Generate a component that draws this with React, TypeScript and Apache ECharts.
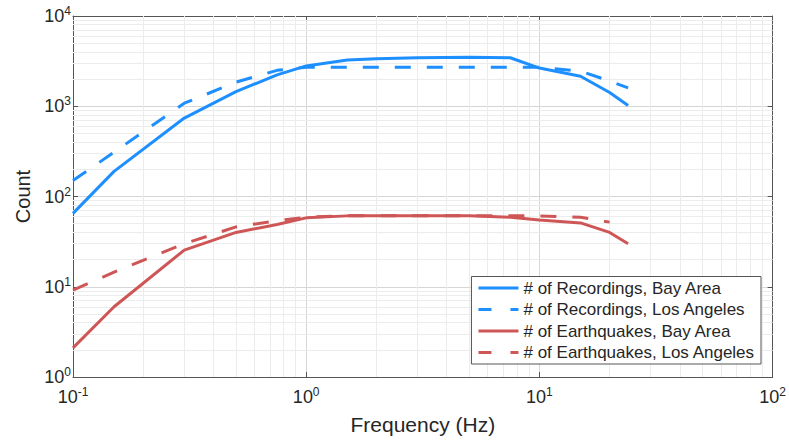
import React, { useEffect, useRef } from "react";
import * as echarts from "echarts";

const freqs = [0.1, 0.15, 0.3, 0.5, 0.75, 1, 1.5, 2, 3, 5, 7.5, 10, 15, 20, 24];
const recBay = [65, 190, 740, 1450, 2230, 2800, 3250, 3350, 3450, 3500, 3450, 2650, 2150, 1420, 1020];
const recLA = [150, 310, 1080, 1850, 2500, 2700, 2700, 2700, 2700, 2700, 2700, 2700, 2450, 1900, 1600];
const eqBay = [2.1, 6.0, 25.5, 40, 49, 58, 61, 61, 61, 61, 59, 55, 51, 40, 30];
const eqLA = [9.2, 14.5, 30, 46, 54, 59, 61, 61, 61, 61, 61, 61, 59, 52];

const seriesNames = [
  "# of Recordings, Bay Area",
  "# of Recordings, Los Angeles",
  "# of Earthquakes, Bay Area",
  "# of Earthquakes, Los Angeles",
];

const xMinorGrid = [0.2, 0.3, 0.4, 0.5, 0.6, 0.7, 0.8, 0.9, 2, 3, 4, 5, 6, 7, 8, 9, 20, 30, 40, 50, 60, 70, 80, 90];
const yMinorGrid = [2, 3, 4, 5, 6, 7, 8, 9, 20, 30, 40, 50, 60, 70, 80, 90, 200, 300, 400, 500, 600, 700, 800, 900, 2000, 3000, 4000, 5000, 6000, 7000, 8000, 9000];

const BLUE = "#1E8FFF";
const RED = "#CF5656";
const FONT = "'Liberation Sans', Arial, sans-serif";
const TXT = "#262626";

const SOLID_ICON = "path://M0,0H40V3H0Z";
const DASH_ICON = "path://M0,0H13V3H0Z M32,0H40V3H32Z";

const pairs = (vals: number[]) => vals.map((v, i) => [freqs[i], v]);

const powLabel = (v: number) => {
  const e = Math.round(Math.log10(v));
  return `{b|10}{s|${e}}`;
};
const rich = {
  b: { fontSize: 18, fontFamily: FONT, color: TXT },
  s: { fontSize: 12, fontFamily: FONT, color: TXT, padding: [0, 0, 10, 0] },
};

export default function App() {
  const ref = useRef<HTMLDivElement>(null);
  useEffect(() => {
    if (!ref.current) return;
    const chart = echarts.init(ref.current, undefined, { renderer: "svg" });
    const axisLine = { show: true, lineStyle: { color: "#555", width: 1 } };
    const tick = { show: true, inside: true, length: 5, lineStyle: { color: "#555" } };
    const baseX = { type: "log" as const, logBase: 10, min: 0.1, max: 100, axisLine, axisTick: tick };
    const baseY = { type: "log" as const, logBase: 10, min: 1, max: 10000, axisLine, axisTick: tick };
    const mkLine = (name: string, vals: number[], color: string, dashed: boolean) => ({
      name,
      type: "line",
      data: pairs(vals),
      showSymbol: false,
      symbol: "none",
      lineStyle: { color, width: 3, type: dashed ? [16, 16] : "solid", cap: "butt" },
      itemStyle: { color },
      z: 5,
    });
    chart.setOption({
      animation: false,
      textStyle: { fontFamily: FONT },
      grid: { left: 73, right: 16, top: 16, bottom: 64, containLabel: false },
      legend: {
        data: [
          { name: seriesNames[0], icon: SOLID_ICON, itemStyle: { color: BLUE } },
          { name: seriesNames[1], icon: DASH_ICON, itemStyle: { color: BLUE } },
          { name: seriesNames[2], icon: SOLID_ICON, itemStyle: { color: RED } },
          { name: seriesNames[3], icon: DASH_ICON, itemStyle: { color: RED } },
        ],
        orient: "vertical",
        right: 28,
        bottom: 77,
        z: 20,
        itemWidth: 40,
        itemHeight: 3,
        itemGap: 4.5,
        itemTextGap: 5,
        padding: [3, 6, 3, 7],
        backgroundColor: "#fff",
        borderColor: "#555",
        borderWidth: 1,
        textStyle: { fontSize: 17, lineHeight: 17, color: TXT, fontFamily: FONT },
      },
      xAxis: [
        {
          ...baseX,
          position: "bottom",
          name: "Frequency (Hz)",
          nameLocation: "middle",
          nameGap: 37,
          nameTextStyle: { fontSize: 21, color: TXT, fontFamily: FONT },
          axisLabel: { formatter: powLabel, rich, margin: 9 },
          splitLine: { show: true, lineStyle: { color: "#d6d6d6", width: 1 } },
        },
        { ...baseX, position: "top", axisLabel: { show: false }, splitLine: { show: false } },
      ],
      yAxis: [
        {
          ...baseY,
          position: "left",
          name: "Count",
          nameLocation: "middle",
          nameGap: 30,
          nameTextStyle: { fontSize: 20, color: TXT, fontFamily: FONT },
          axisLabel: { formatter: powLabel, rich, margin: 2 },
          splitLine: { show: true, lineStyle: { color: "#d6d6d6", width: 1 } },
        },
        { ...baseY, position: "right", axisLabel: { show: false }, splitLine: { show: false } },
      ],
      series: [
        {
          name: "minorGrid",
          type: "line",
          data: [],
          silent: true,
          z: 1,
          markLine: {
            silent: true,
            symbol: "none",
            z: 1,
            label: { show: false },
            lineStyle: { color: "#ececec", width: 1, type: "solid" },
            data: [
              ...xMinorGrid.map((v) => ({ xAxis: v })),
              ...yMinorGrid.map((v) => ({ yAxis: v })),
            ],
          },
        },
        mkLine(seriesNames[0], recBay, BLUE, false),
        mkLine(seriesNames[1], recLA, BLUE, true),
        mkLine(seriesNames[2], eqBay, RED, false),
        mkLine(seriesNames[3], eqLA, RED, true),
      ],
    });
    return () => chart.dispose();
  }, []);
  return <div ref={ref} style={{ width: 789, height: 441, position: "absolute", left: 0, top: 0 }} />;
}
